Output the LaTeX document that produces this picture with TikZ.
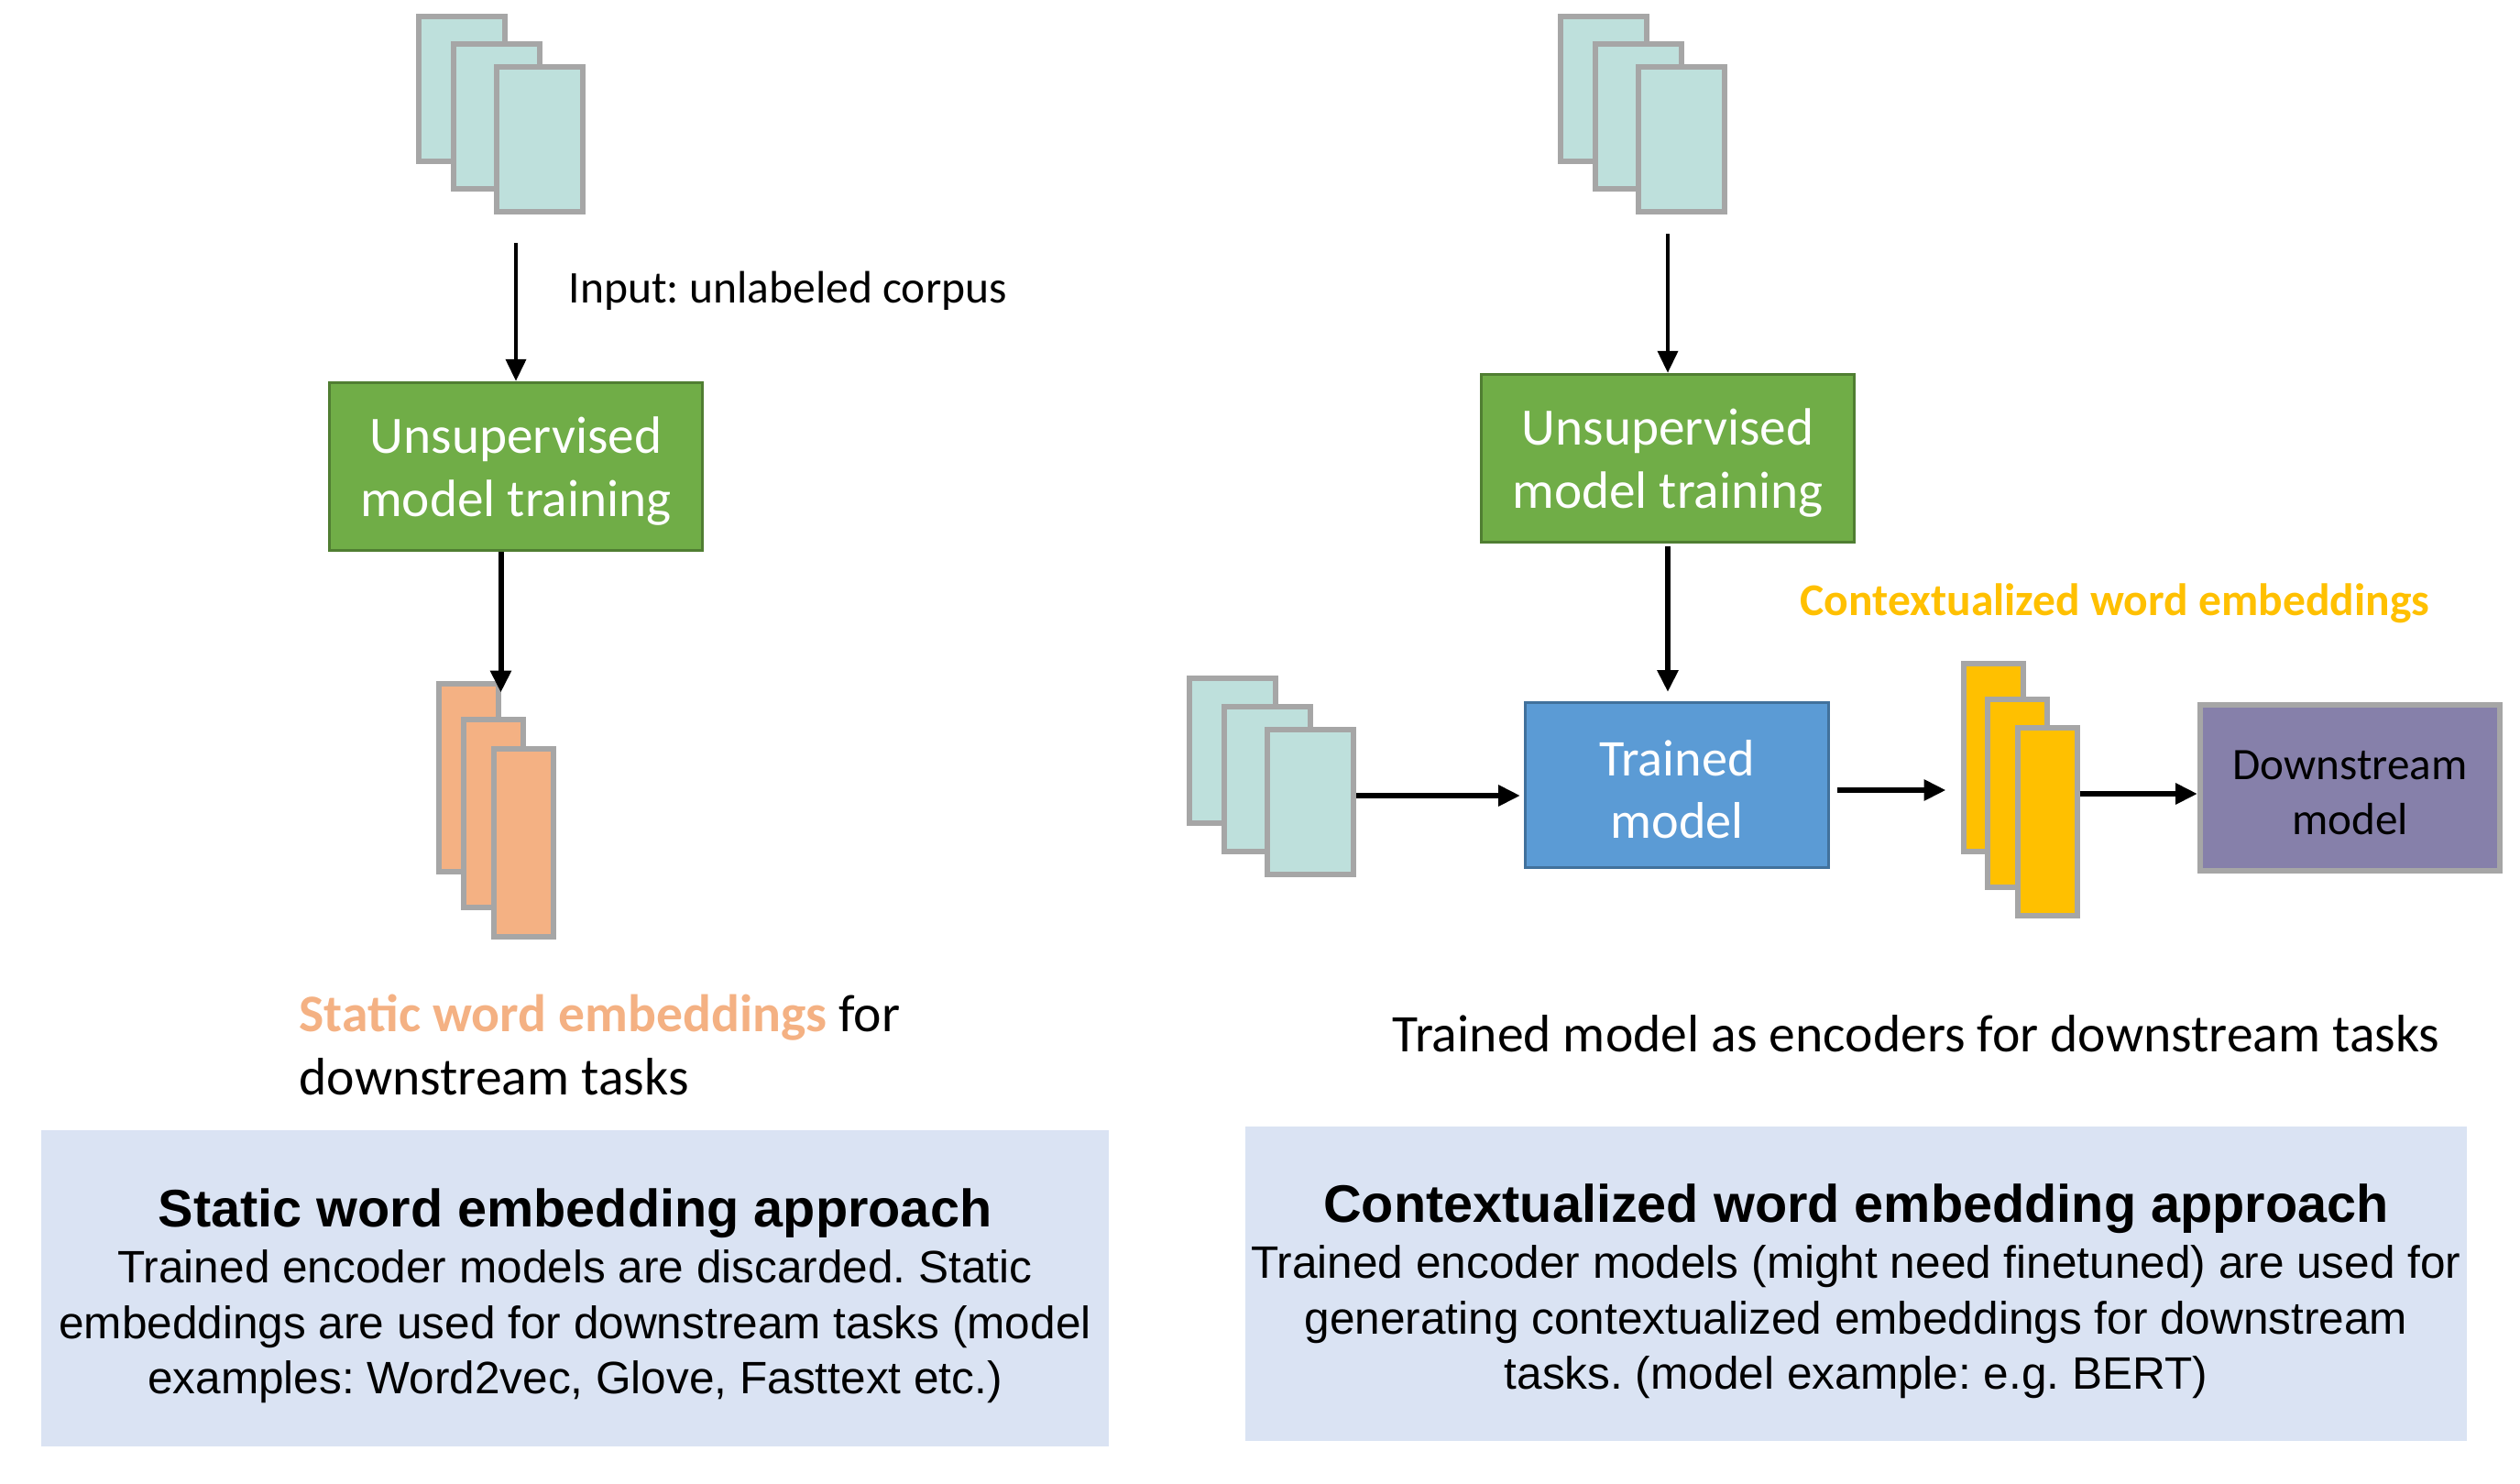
\documentclass[tikz,border=0pt]{standalone}
\usepackage{fontspec}
\setmainfont{Carlito}
\newfontfamily\arialfont{Liberation Sans}
\usetikzlibrary{arrows.meta,calc}
\frenchspacing
\definecolor{corpusteal}{RGB}{190,224,220}
\definecolor{pagegray}{RGB}{166,166,166}
\definecolor{traingreen}{RGB}{112,173,71}
\definecolor{traindark}{RGB}{80,126,50}
\definecolor{staticorange}{RGB}{244,177,131}
\definecolor{ctxyellow}{RGB}{255,192,0}
\definecolor{modelblue}{RGB}{91,155,213}
\definecolor{modeldark}{RGB}{65,113,156}
\definecolor{downpurple}{RGB}{134,128,170}
\definecolor{notebg}{RGB}{218,227,243}

\begin{document}
\begin{tikzpicture}[x=1cm,y=-1cm, line join=miter]

\tikzset{
  corpus/.style={draw=pagegray, fill=corpusteal, line width=0.06cm, minimum width=0.94cm, minimum height=1.58cm, inner sep=0pt},
  emb/.style={draw=pagegray, line width=0.06cm, minimum width=0.65cm, minimum height=2.05cm, inner sep=0pt},
  train/.style={draw=traindark, fill=traingreen, line width=0.035cm, minimum width=4.07cm, minimum height=1.83cm, text=white, align=center, font=\fontsize{16.3}{19.8}\selectfont},
  model/.style={draw=modeldark, fill=modelblue, line width=0.03cm, minimum width=3.31cm, minimum height=1.80cm, text=white, align=center, font=\fontsize{16}{19.3}\selectfont},
  down/.style={draw=pagegray, fill=downpurple, line width=0.06cm, minimum width=3.27cm, minimum height=1.81cm, align=center, font=\fontsize{14}{17}\selectfont},
  note/.style={fill=notebg, align=center, inner sep=0pt, font=\arialfont\fontsize{14.1}{17.3}\selectfont},
  txt/.style={inner sep=0pt, font=\fontsize{16.4}{19.8}\selectfont},
  arr/.style={-{Triangle[length=0.24cm,width=0.22cm]}, line width=0.06cm},
  thinarr/.style={arr, line width=0.04cm}
}

\useasboundingbox (0,0) rectangle (27.5,16.19);

% static word embedding side
\node[corpus] (in1a) at (5.04,0.97) {};
\node[corpus] (in1b) at (5.42,1.27) {};
\node[corpus] (in1c) at (5.89,1.52) {};

\node[txt, anchor=west, font=\fontsize{14.1}{17}\selectfont] (corpuslbl) at (6.20,3.17) {Input: unlabeled corpus};

\node[train] (train1) at (5.63,5.09) {Unsupervised\\\raisebox{0pt}[\height][0pt]{model training}};

\node[emb, fill=staticorange] (st1) at (5.11,8.48) {};
\node[emb, fill=staticorange] (st2) at (5.38,8.87) {};
\node[emb, fill=staticorange] (st3) at (5.71,9.19) {};

\draw[thinarr, shorten <=0.31cm] (train1.north |- in1c.south) -- (train1.north);
\draw[arr, shorten >=-0.13cm] (train1.south -| st1.north east) -- (st1.north east);

\node[txt, anchor=west, align=left] (staticlbl) at (3.26,11.40) {\textcolor{staticorange}{\bfseries Static word embeddings} for\\downstream tasks};

\node[note, minimum width=11.65cm, minimum height=3.45cm] (noteL) at (6.275,14.055)
  {\rule{0pt}{16.7pt}{\bfseries\fontsize{16.4}{19}\selectfont Static word embedding approach}\\
   Trained encoder models are discarded. Static\\
   embeddings are used for downstream tasks (model\\
   examples: Word2vec, Glove, Fasttext etc.)};

% contextualized word embedding side
\node[corpus] (in2a) at (17.50,0.97) {};
\node[corpus] (in2b) at (17.88,1.27) {};
\node[corpus] (in2c) at (18.35,1.52) {};

\node[train] (train2) at (18.20,5.00) {Unsupervised\\\raisebox{0pt}[\height][0pt]{model training}};

\node[corpus] (ctx1a) at (13.45,8.19) {};
\node[corpus] (ctx1b) at (13.83,8.50) {};
\node[corpus] (ctx1c) at (14.30,8.75) {};

\node[model] (model) at (18.30,8.565) {\rule{0pt}{13.7pt}Trained\\model};

\node[emb, fill=ctxyellow] (ce1) at (21.75,8.26) {};
\node[emb, fill=ctxyellow] (ce2) at (22.01,8.65) {};
\node[emb, fill=ctxyellow] (ce3) at (22.34,8.96) {};

\node[down] (down) at (25.645,8.595) {\rule{0pt}{12pt}Downstream\\model};

\node[txt, text=ctxyellow, font=\bfseries\fontsize{14.1}{17}\selectfont] (ctxlbl) at (23.08,6.58) {Contextualized word embeddings};

\draw[thinarr, shorten <=0.21cm] (train2.north |- in2c.south) -- (train2.north);
\draw[arr, shorten <=0.03cm, shorten >=0.1cm] (train2.south) -- (train2.south |- model.north);
\draw[arr, shorten >=0.04cm] ([yshift=0.07cm]ctx1c.east) -- ([yshift=0.07cm]ctx1c.east -| model.west);
\draw[arr, shorten <=0.08cm, shorten >=0.16cm] ([yshift=-0.055cm]model.east) -- ([yshift=-0.055cm]model.east -| ce1.west);
\draw[arr] ([yshift=0.30cm]ce3.east) -- ([yshift=0.30cm]ce3.east -| down.west);

\node[txt] (enclbl) at (20.91,11.28) {Trained model as encoders for downstream tasks};

\node[note, minimum width=13.33cm, minimum height=3.43cm] (noteR) at (20.255,14.005)
  {\rule{0pt}{16.7pt}{\bfseries\fontsize{16.4}{19}\selectfont Contextualized word embedding approach}\\
   Trained encoder models (might need finetuned) are used for\\
   generating contextualized embeddings for downstream\\
   tasks. (model example: e.g. BERT)};

\end{tikzpicture}
\end{document}
